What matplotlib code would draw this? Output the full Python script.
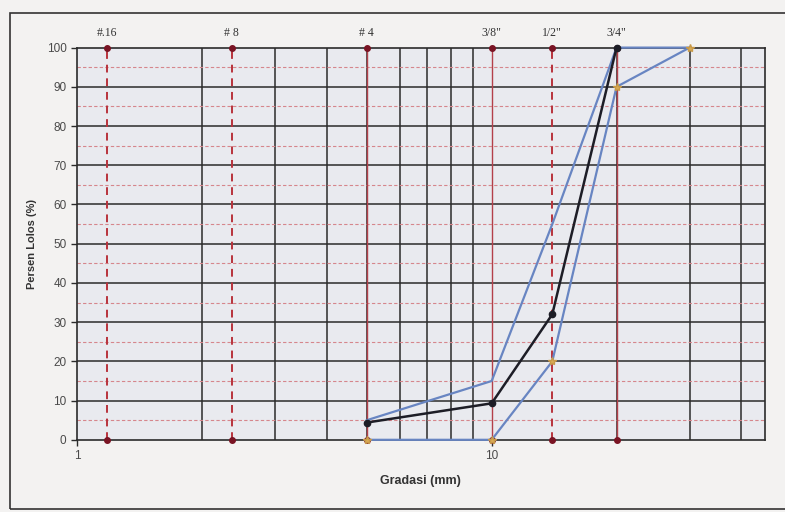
import matplotlib
matplotlib.use("Agg")
from matplotlib import pyplot as plt
from matplotlib.patches import Rectangle
import numpy as np

# ukuran saringan (mm) dan namanya
sieve_names = ['#.16', '# 8', '# 4', '3/8"', '1/2"', '3/4"']
sieve_size = [1.18, 2.36, 5.0, 10.0, 14.0, 20.0]
sieve_dashed = [True, True, False, False, True, False]

# gradasi agregat hasil uji
grad_x = [5.0, 10.0, 14.0, 20.0]
grad_y = [4.4, 9.3, 32.0, 100.0]

# batas atas dan batas bawah spesifikasi
upper_x = [5.0, 10.0, 14.0, 20.0, 30.0]
upper_y = [5.0, 15.0, 55.0, 100.0, 100.0]
lower_x = [5.0, 10.0, 14.0, 20.0, 30.0]
lower_y = [0.0, 0.0, 20.0, 90.0, 100.0]

plt.rcParams['font.family'] = ['Liberation Sans', 'DejaVu Sans']

fig = plt.figure(figsize=(7.85, 5.12), dpi=100, facecolor='#f3f2f1')
ax = fig.add_axes([0.098, 0.141, 0.876, 0.766], facecolor='#e9eaef')

# bingkai luar grafik
fig.patches.append(Rectangle((0.013, 0.006), 1.0, 0.969, transform=fig.transFigure,
                             fill=False, edgecolor='#333333', linewidth=1.2))

ax.set_xscale('log')
ax.set_xlim(1, 45.5)
ax.set_ylim(0, 100)

# garis grid hitam (mayor y, minor x log)
for y in range(10, 100, 10):
    ax.axhline(y, color='#2b2b2b', linewidth=1.1, zorder=1)
for x in list(range(2, 10)) + [20, 30, 40]:
    ax.axvline(x, color='#2b2b2b', linewidth=1.1, zorder=1)
# garis merah putus-putus tiap 5 %
for y in range(5, 100, 10):
    ax.axhline(y, color='#d6868c', linewidth=0.8, dashes=(3, 2), zorder=1)

# garis saringan
for name, size, dashed in zip(sieve_names, sieve_size, sieve_dashed):
    if dashed:
        ax.axvline(size, color='#b8323c', linewidth=1.4, dashes=(4, 3), zorder=2)
    else:
        ax.axvline(size, color='#b4404a', linewidth=1.0, zorder=2)
    ax.plot([size, size], [0, 100], 'o', color='#7a1424', markersize=4,
            clip_on=False, zorder=3)
    ax.text(size, 102.3, name, ha='center', va='bottom', fontsize=8.5,
            family=['Liberation Serif', 'DejaVu Serif'], color='#333333')

ax.plot(upper_x, upper_y, '-', color='#6885c2', linewidth=1.6, zorder=4, clip_on=False)
ax.plot(lower_x, lower_y, '-', color='#6885c2', linewidth=1.6, zorder=4, clip_on=False,
        marker='*', markersize=6, markerfacecolor='#d9aa55', markeredgecolor='#c89a48')
ax.plot(grad_x, grad_y, '-o', color='#1d1d26', linewidth=1.8, markersize=4.5,
        zorder=5, clip_on=False)

ax.set_yticks(np.arange(0, 101, 10))
ax.set_xticks([1, 10])
ax.set_xticklabels(['1', '10'])
ax.xaxis.set_minor_locator(matplotlib.ticker.NullLocator())
ax.tick_params(axis='both', labelsize=8.5, labelcolor='#4a4a4a', color='#2b2b2b',
               length=4, width=1.0)
for s in ax.spines.values():
    s.set_color('#2b2b2b')
    s.set_linewidth(1.2)

ax.set_ylabel('Persen Lolos (%)', fontsize=8, fontweight='bold', color='#333333', labelpad=7)
ax.set_xlabel('Gradasi (mm)', fontsize=9, fontweight='bold', color='#333333', labelpad=9)

fig.savefig('out.png', dpi=100, facecolor=fig.get_facecolor())
